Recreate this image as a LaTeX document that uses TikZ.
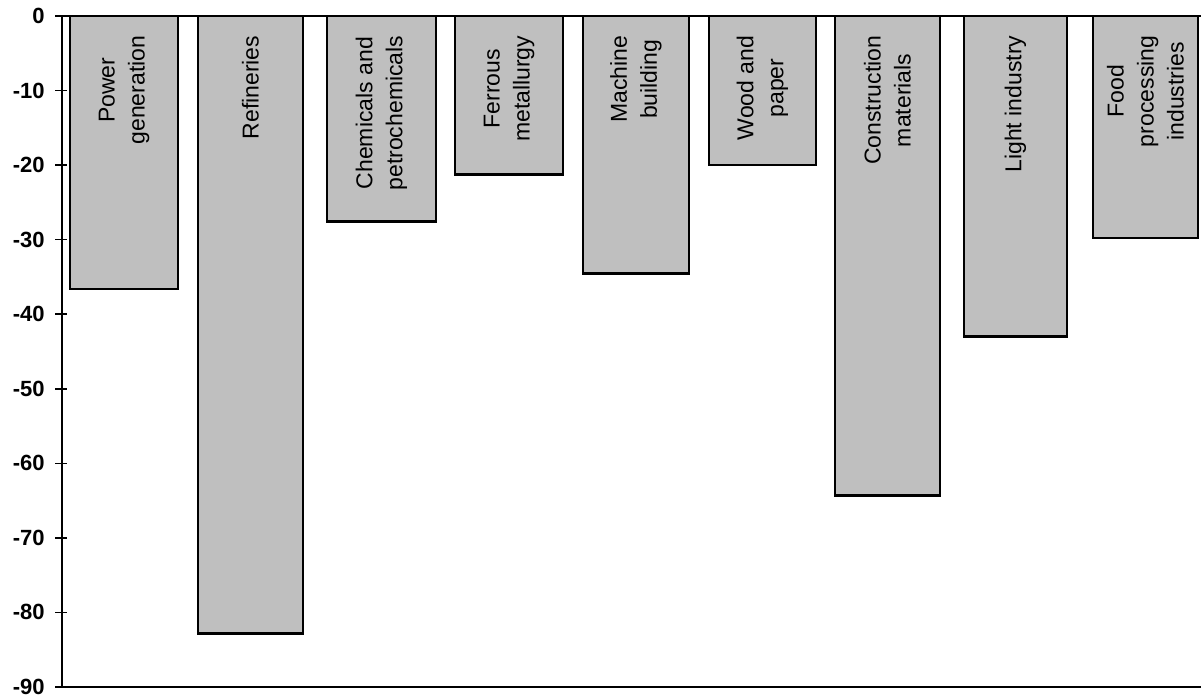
\documentclass[tikz,border=0pt]{standalone}
\usepackage{fontspec}
\setmainfont{Liberation Sans}

\tikzset{
    bar/.style={draw=black, line width=1.3pt, fill=black!25},
    axis/.style={line width=1.3pt},
    barlab/.style={rotate=90, anchor=east, align=center, inner sep=0pt, font=\fontsize{11.5}{15}\selectfont},
    ylab/.style={anchor=east, inner sep=0pt, font=\bfseries\fontsize{11}{13}\selectfont}
}

\begin{document}
\begin{tikzpicture}[x=0.5pt, y=3.7275pt] % x in pixels, y in percent
        \useasboundingbox (0,2.146) rectangle (1201,-91.48);

        % 1. Draw the bars with their labels
        \foreach \xl/\xr/\v/\name/\txt in {
            70/178/-36.6/power/{Power\\generation},
            198/303/-82.8/refin/{Refineries},
            327/436/-27.6/chem/{Chemicals and\\petrochemicals},
            455/563/-21.3/ferro/{Ferrous\\metallurgy},
            583/689/-34.5/mach/{Machine\\building},
            709/816/-20.0/wood/{Wood and\\paper},
            835/940/-64.3/constr/{Construction\\materials},
            964/1067/-43.0/light/{Light industry},
            1093/1198/-29.8/food/{Food\\processing\\industries}} {
            \draw[bar] (\xl,0) rectangle (\xr,\v);
            \node[barlab] (\name) at ({(\xl+\xr)/2},-2.6) {\txt};
        }

        % 2. Draw the axes
        \draw[axis] (62,0) -- (1201,0);
        \draw[axis] (62,0) -- (62,-90) -- (1201,-90);

        % 3. Add the ticks and their labels
        \foreach \v [count=\i] in {0,-10,-20,-30,-40,-50,-60,-70,-80,-90} {
            \draw[line width=0.8pt] (55,\v) -- (67,\v);
            \node[ylab] (ytick\i) at (45,\v) {\v};
        }
    \end{tikzpicture}
\end{document}
